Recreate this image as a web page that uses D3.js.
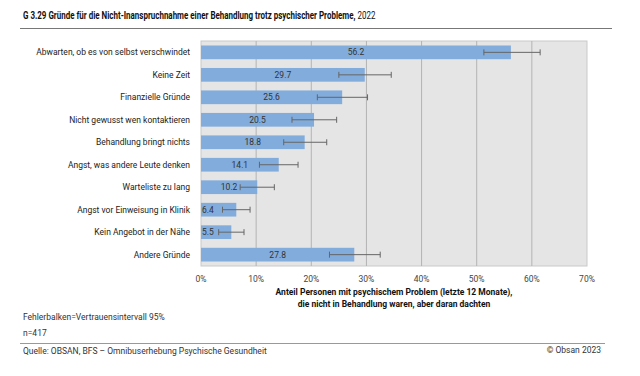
<!DOCTYPE html>
<html>
<head>
<meta charset="utf-8">
<script src="https://cdn.jsdelivr.net/npm/d3@7"></script>
<style>
  body { margin: 0; background: #fff; }
  text { font-family: Roboto, "Noto Sans", sans-serif; }
</style>
</head>
<body>
<script>
var categories = [
    "Abwarten, ob es von selbst verschwindet",
    "Keine Zeit",
    "Finanzielle Gründe",
    "Nicht gewusst wen kontaktieren",
    "Behandlung bringt nichts",
    "Angst, was andere Leute denken",
    "Warteliste zu lang",
    "Angst vor Einweisung in Klinik",
    "Kein Angebot in der Nähe",
    "Andere Gründe"
];
var values = [56.2, 29.7, 25.6, 20.5, 18.8, 14.1, 10.2, 6.4, 5.5, 27.8];
var ciLow = [51.3, 25.0, 21.1, 16.5, 15.0, 10.6, 7.1, 3.9, 3.2, 23.3];
var ciHigh = [61.5, 34.5, 30.2, 24.6, 22.8, 17.6, 13.3, 8.9, 7.8, 32.5];
var ticks = [0, 10, 20, 30, 40, 50, 60, 70];

var width = 640, height = 376;
var m = { left: 201, right: 53, top: 41, bottom: 110 };

var rows = categories.map(function (c, i) {
    return { cat: c, v: values[i], lo: ciLow[i], hi: ciHigh[i] };
});

const svg = d3.select("body").append("svg")
    .attr("width", width)
    .attr("height", height);

var x = d3.scaleLinear().domain([0, 70]).range([m.left, width - m.right]);
var y = d3.scaleBand().domain(categories).range([m.top, height - m.bottom]).paddingInner(0.39).paddingOuter(0.2);

// title
var title = svg.append("text")
    .attr("x", 23).attr("y", 19)
    .attr("font-size", 10.5)
    .attr("fill", "#111");
title.append("tspan").attr("font-weight", "bold").text("G 3.29  Gründe für die Nicht-Inanspruchnahme einer Behandlung trotz psychischer Probleme,");
title.append("tspan").text(" 2022");
var tw = title.node().getComputedTextLength();
title.attr("transform", "translate(23,0) scale(" + (353 / tw) + ",1) translate(-23,0)");

svg.append("line")
    .attr("x1", 20).attr("x2", 612).attr("y1", 28.5).attr("y2", 28.5)
    .attr("stroke", "#777").attr("stroke-width", 1);

// plot background
svg.append("rect")
    .attr("x", x(0)).attr("y", m.top)
    .attr("width", x(70) - x(0)).attr("height", height - m.bottom - m.top)
    .attr("fill", "#e5e5e5")
    .attr("stroke", "#c9c9c9");

svg.append("g").selectAll("line")
    .data(ticks.slice(1, -1))
    .enter().append("line")
    .attr("x1", d => x(d)).attr("x2", d => x(d))
    .attr("y1", m.top).attr("y2", height - m.bottom)
    .attr("stroke", "#b3b3b3").attr("stroke-width", 1);

// bars
svg.append("g").selectAll("rect")
    .data(rows)
    .enter().append("rect")
    .attr("x", x(0))
    .attr("y", d => y(d.cat))
    .attr("width", d => x(d.v) - x(0))
    .attr("height", y.bandwidth())
    .attr("fill", "#82acdb");

// error bars
var eb = svg.append("g").attr("stroke", "#666").attr("stroke-width", 1);
rows.forEach(function (d) {
    var cy = y(d.cat) + y.bandwidth() / 2;
    eb.append("line").attr("x1", x(d.lo)).attr("x2", x(d.hi)).attr("y1", cy).attr("y2", cy);
    eb.append("line").attr("x1", x(d.lo)).attr("x2", x(d.lo)).attr("y1", cy - 3).attr("y2", cy + 3);
    eb.append("line").attr("x1", x(d.hi)).attr("x2", x(d.hi)).attr("y1", cy - 3).attr("y2", cy + 3);
});

// value labels
svg.append("g").selectAll("text")
    .data(rows)
    .enter().append("text")
    .attr("y", d => y(d.cat) + y.bandwidth() / 2 + 3)
    .attr("font-size", 8.5)
    .attr("fill", "#333")
    .text(d => d.v.toFixed(1))
    .each(function (d) {
        var t = d3.select(this);
        var w = this.getComputedTextLength();
        var mid = (x(0) + x(d.v)) / 2;
        if (mid + w / 2 > x(d.lo) - 1) {
            t.attr("x", x(0) + 1).attr("text-anchor", "start");
        } else {
            t.attr("x", mid).attr("text-anchor", "middle");
        }
    });

// category labels
svg.append("g").selectAll("text")
    .data(rows)
    .enter().append("text")
    .attr("x", 190)
    .attr("y", d => y(d.cat) + y.bandwidth() / 2 + 3)
    .attr("text-anchor", "end")
    .attr("font-size", 8.5)
    .attr("fill", "#222")
    .text(d => d.cat);

// x ticks
svg.append("g").selectAll("text")
    .data(ticks)
    .enter().append("text")
    .attr("x", d => x(d))
    .attr("y", 282)
    .attr("text-anchor", "middle")
    .attr("font-size", 8.5)
    .attr("fill", "#444")
    .text(d => d + "%");

// axis title
var at = svg.append("text")
    .attr("text-anchor", "middle")
    .attr("font-size", 8.5)
    .attr("font-weight", "bold")
    .attr("fill", "#111");
at.append("tspan").attr("x", 394).attr("y", 295).text("Anteil Personen mit psychischem Problem (letzte 12 Monate),");
at.append("tspan").attr("x", 394).attr("y", 307).text("die nicht in Behandlung waren, aber daran dachten");

// notes
svg.append("text").attr("x", 23).attr("y", 320).attr("font-size", 8.5).attr("fill", "#333")
    .text("Fehlerbalken=Vertrauensintervall 95%");
svg.append("text").attr("x", 23).attr("y", 336).attr("font-size", 8.5).attr("fill", "#333")
    .text("n=417");
svg.append("line")
    .attr("x1", 20).attr("x2", 605).attr("y1", 343.5).attr("y2", 343.5)
    .attr("stroke", "#999").attr("stroke-width", 1);
svg.append("text").attr("x", 23).attr("y", 354).attr("font-size", 8.5).attr("fill", "#333")
    .text("Quelle: OBSAN, BFS – Omnibuserhebung Psychische Gesundheit");
svg.append("text").attr("x", 601).attr("y", 353).attr("text-anchor", "end").attr("font-size", 8.5).attr("fill", "#333")
    .text("© Obsan 2023");
</script>
</body>
</html>
